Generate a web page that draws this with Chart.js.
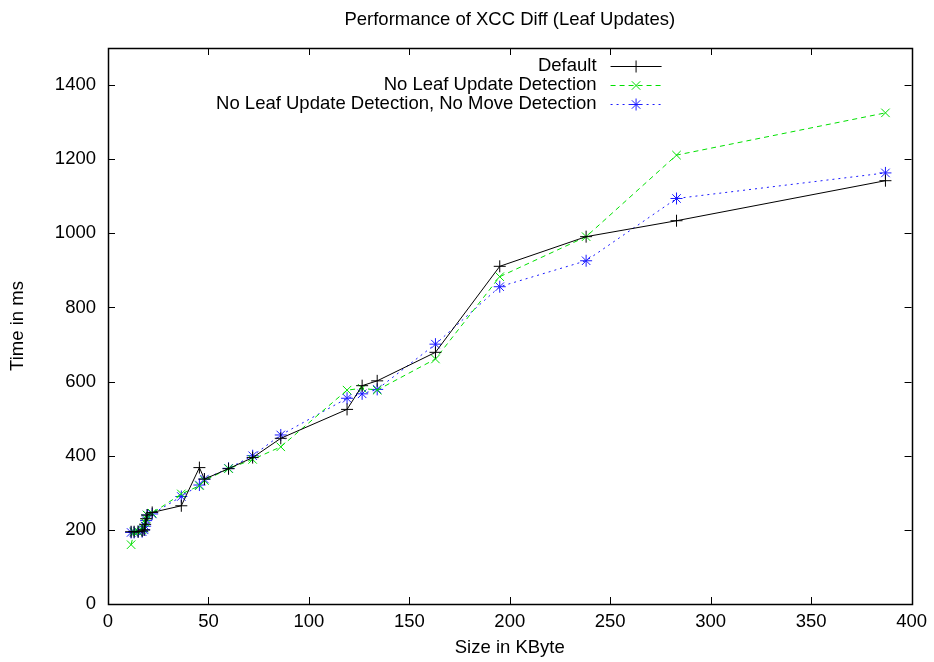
<!DOCTYPE html>
<html>
<head>
<meta charset="utf-8">
<title>Performance of XCC Diff (Leaf Updates)</title>
<script src="https://cdn.jsdelivr.net/npm/chart.js@4/dist/chart.umd.min.js"></script>
<style>
  html, body { margin: 0; padding: 0; background: #fff; }
  #wrap { width: 934px; height: 662px; }
</style>
</head>
<body>
<div id="wrap"><canvas id="grafico"></canvas></div>
<script>
// document sizes in KByte, shared by the three runs
const sizes = [11.5, 13, 15, 17, 18, 18.5, 19, 19.5, 22, 36.5, 45.5, 48, 60, 72, 86, 119, 126.5, 134, 163, 195, 238, 283, 387];

const defaultMs = [195, 195, 195, 197, 200, 215, 230, 240, 247, 265, 368, 337, 365, 395, 447, 525, 589, 602, 679, 911, 991, 1034, 1142];
const noLeafMs = [160, 195, 195, 200, 205, 220, 230, 240, 245, 297, 319, 333, 365, 390, 424, 577, 582, 577, 661, 883, 991, 1211, 1325];
const noLeafNoMoveMs = [193, 193, 195, 195, 200, 210, 225, 240, 243, 290, 321, 337, 366, 400, 456, 555, 567, 579, 701, 856, 926, 1094, 1163];

const seriesNames = ["Default", "No Leaf Update Detection", "No Leaf Update Detection, No Move Detection"];
const tituloGrafico = "Performance of XCC Diff (Leaf Updates)";

const fuente = "'Liberation Sans', Arial, Helvetica, sans-serif";
const tamFuente = 18.5;

function puntos(valores) {
    return valores.map((v, i) => ({ x: sizes[i], y: v }));
}

const series = [
    { label: seriesNames[0], data: puntos(defaultMs), color: "#000000", dash: [], style: "cross" },
    { label: seriesNames[1], data: puntos(noLeafMs), color: "#00e000", dash: [5, 4], style: "crossRot" },
    { label: seriesNames[2], data: puntos(noLeafNoMoveMs), color: "#1a1aff", dash: [2, 4], style: "star" },
];

// box round the plot and inward ticks on all four sides, gnuplot style
const marcoPlugin = {
    id: "marco",
    afterDraw(chart) {
        const ctx = chart.ctx;
        const a = chart.chartArea;
        const sx = chart.scales.x;
        const sy = chart.scales.y;
        const largo = 7;
        ctx.save();
        ctx.strokeStyle = "#000";
        ctx.lineWidth = 1;
        ctx.setLineDash([]);
        ctx.beginPath();
        sx.ticks.forEach((t) => {
            const px = Math.round(sx.getPixelForValue(t.value)) + 0.5;
            ctx.moveTo(px, a.bottom);
            ctx.lineTo(px, a.bottom - largo);
            ctx.moveTo(px, a.top);
            ctx.lineTo(px, a.top + largo);
        });
        sy.ticks.forEach((t) => {
            const py = Math.round(sy.getPixelForValue(t.value)) + 0.5;
            ctx.moveTo(a.left, py);
            ctx.lineTo(a.left + largo, py);
            ctx.moveTo(a.right, py);
            ctx.lineTo(a.right - largo, py);
        });
        ctx.stroke();
        ctx.lineWidth = 1.5;
        ctx.strokeRect(Math.round(a.left) + 0.5, Math.round(a.top) + 0.5,
            Math.round(a.right - a.left), Math.round(a.bottom - a.top));

        // title centred over the plot area
        ctx.font = tamFuente + "px " + fuente;
        ctx.fillStyle = "#000";
        ctx.textAlign = "center";
        ctx.textBaseline = "middle";
        ctx.fillText(tituloGrafico, (a.left + a.right) / 2, 20);
        ctx.restore();
    },
};

// legend in the upper right corner: text right aligned, then sample line with marker
const leyendaPlugin = {
    id: "leyenda",
    afterDraw(chart) {
        const ctx = chart.ctx;
        const a = chart.chartArea;
        const textoX = a.right - 315;
        const lineaIni = a.right - 301;
        const lineaFin = a.right - 250;
        ctx.save();
        ctx.font = tamFuente + "px " + fuente;
        ctx.textAlign = "right";
        ctx.textBaseline = "middle";
        chart.data.datasets.forEach((ds, i) => {
            const y = a.top + 18 + i * 18.8;
            ctx.fillStyle = "#000";
            ctx.fillText(ds.label, textoX, y);
            ctx.strokeStyle = ds.borderColor;
            ctx.lineWidth = 1;
            ctx.setLineDash(ds.borderDash);
            ctx.beginPath();
            ctx.moveTo(lineaIni, Math.round(y) + 0.5);
            ctx.lineTo(lineaFin, Math.round(y) + 0.5);
            ctx.stroke();
            ctx.setLineDash([]);
            Chart.helpers.drawPoint(ctx, {
                pointStyle: ds.pointStyle,
                radius: ds.pointRadius,
                borderWidth: 1,
                rotation: 0,
            }, (lineaIni + lineaFin) / 2, Math.round(y) + 0.5);
        });
        ctx.restore();
    },
};

const dataGrafico = {
    datasets: series.map((s) => ({
        label: s.label,
        data: s.data,
        borderColor: s.color,
        backgroundColor: s.color,
        borderWidth: 1,
        borderDash: s.dash,
        pointStyle: s.style,
        pointRadius: 6,
        pointBorderWidth: 1,
        pointBorderColor: s.color,
        fill: false,
        tension: 0,
    })),
};

const configGrafico = {
    type: "line",
    data: dataGrafico,
    options: {
        responsive: true,
        maintainAspectRatio: false,
        animation: false,
        layout: {
            padding: { left: 0, right: 21, top: 48, bottom: 0 },
        },
        plugins: {
            legend: { display: false },
            tooltip: { enabled: false },
            title: { display: false },
        },
        scales: {
            x: {
                type: "linear",
                min: 0,
                max: 400,
                grid: { display: false, drawTicks: false },
                border: { display: false },
                ticks: {
                    stepSize: 50,
                    includeBounds: false,
                    color: "#000",
                    padding: 7,
                    maxRotation: 0,
                    font: { size: tamFuente, family: fuente },
                    callback: (v) => String(v),
                },
                title: {
                    display: true,
                    text: "Size in KByte",
                    color: "#000",
                    font: { size: tamFuente, family: fuente },
                    padding: { top: 0, bottom: 3 },
                },
                afterFit: (escala) => { escala.height = 58; },
            },
            y: {
                type: "linear",
                min: 0,
                max: 1500,
                grid: { display: false, drawTicks: false },
                border: { display: false },
                ticks: {
                    stepSize: 200,
                    includeBounds: false,
                    color: "#000",
                    padding: 12,
                    font: { size: tamFuente, family: fuente },
                    callback: (v) => String(v),
                },
                title: {
                    display: true,
                    text: "Time in ms",
                    color: "#000",
                    font: { size: tamFuente, family: fuente },
                    padding: { top: 7, bottom: 0 },
                },
                afterFit: (escala) => { escala.width = 108; },
            },
        },
    },
    plugins: [marcoPlugin, leyendaPlugin],
};

const grafico = new Chart(document.getElementById("grafico"), configGrafico);
</script>
</body>
</html>
